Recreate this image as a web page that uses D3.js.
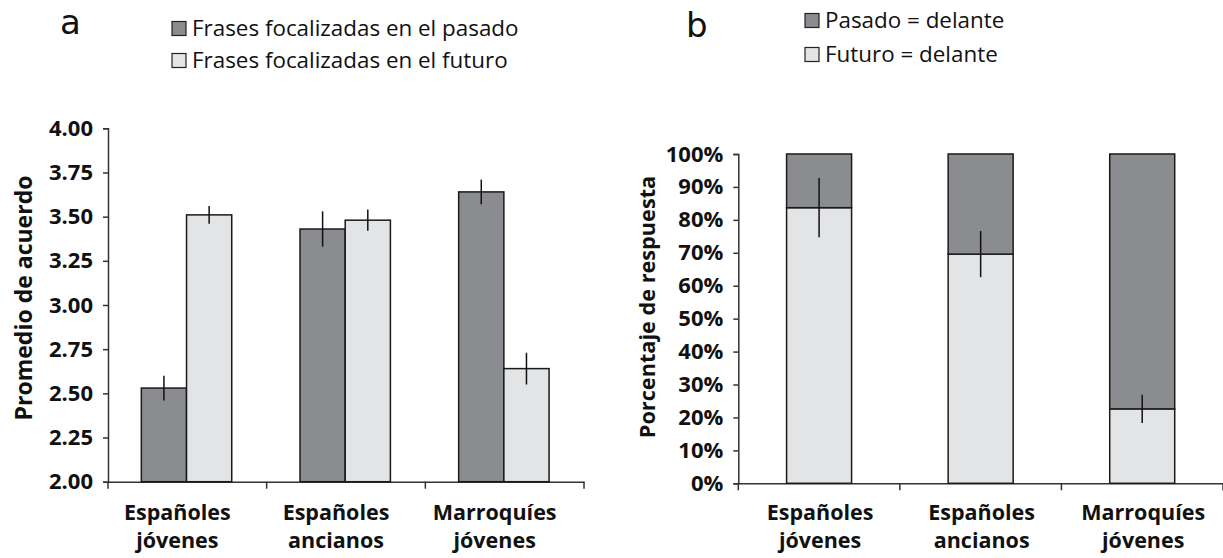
<!DOCTYPE html>
<html><head><meta charset="utf-8">
<script src="https://cdn.jsdelivr.net/npm/d3@7"></script>
<style>
html,body{margin:0;padding:0;background:#fff;}
svg{display:block;font-family:"Open Sans",sans-serif;}
</style></head>
<body>
<svg id="c" width="1223" height="558"></svg>
<script>
const categories = [["Españoles","jóvenes"],["Españoles","ancianos"],["Marroquíes","jóvenes"]];
const seriesA = ["Frases focalizadas en el pasado","Frases focalizadas en el futuro"];
const pastA = [2.53, 3.43, 3.64];
const pastAErr = [0.07, 0.10, 0.07];
const futureA = [3.51, 3.48, 2.64];
const futureAErr = [0.05, 0.06, 0.09];
const ticksA = [2.00, 2.25, 2.50, 2.75, 3.00, 3.25, 3.50, 3.75, 4.00];

const seriesB = ["Pasado = delante","Futuro = delante"];
const futureB = [83.7, 69.6, 22.6];
const futureBErr = [9.0, 7.0, 4.3];
const pastB = [16.3, 30.4, 77.4];
const ticksB = [0,10,20,30,40,50,60,70,80,90,100];

const DARK = "#8b8c90", LIGHT = "#e3e4e6";
const svg = d3.select("#c");
const catIdx = categories.map((c,i)=>i);

// ---------- Panel a ----------
const xA = d3.scaleBand().domain(catIdx).range([108, 584]);
const yA = d3.scaleLinear().domain([2,4]).range([481.7,128.3]);
const barW_A = 45.2;
const gA = svg.append("g");

const axYA = gA.append("g").attr("transform","translate(108,0)")
  .call(d3.axisLeft(yA).tickValues(ticksA).tickFormat(d3.format(".2f")).tickSize(5).tickPadding(10));
const axXA = gA.append("g").attr("transform",`translate(0,${yA(2)})`)
  .call(d3.axisBottom(xA).tickValues([]).tickSizeOuter(0));
gA.selectAll(".bt").data([0,1,2,3]).enter().append("line")
  .attr("x1",d=>108 + d*xA.bandwidth()).attr("x2",d=>108 + d*xA.bandwidth())
  .attr("y1",yA(2)).attr("y2",yA(2)+7).attr("stroke","#333").attr("stroke-width",1.5);

const pairs = [{v:pastA,e:pastAErr,c:DARK,off:-1},{v:futureA,e:futureAErr,c:LIGHT,off:0}];
pairs.forEach(s=>{
  catIdx.forEach(i=>{
    const cx = xA(i)+xA.bandwidth()/2 + s.off*barW_A - 0.8;
    gA.append("rect").attr("x",cx).attr("y",yA(s.v[i])).attr("width",barW_A)
      .attr("height",yA(2)-yA(s.v[i])).attr("fill",s.c).attr("stroke","#1a1a1a").attr("stroke-width",1.5);
    const ex = cx + barW_A/2;
    gA.append("line").attr("x1",ex).attr("x2",ex)
      .attr("y1",yA(s.v[i]+s.e[i])).attr("y2",yA(s.v[i]-s.e[i]))
      .attr("stroke","#111").attr("stroke-width",1.5);
  });
});

// ---------- Panel b ----------
const xB = d3.scaleBand().domain(catIdx).range([738.3, 1223]);
const yB = d3.scaleLinear().domain([0,100]).range([483.3,154]);
const barW_B = 65;
const gB = svg.append("g");
const axYB = gB.append("g").attr("transform","translate(738.3,0)")
  .call(d3.axisLeft(yB).tickValues(ticksB).tickFormat(d=>d+"%").tickSize(5).tickPadding(10));
const axXB = gB.append("g").attr("transform",`translate(0,${yB(0)})`)
  .call(d3.axisBottom(xB).tickValues([]).tickSizeOuter(0));
gB.selectAll(".bt").data([0,1,2,3]).enter().append("line")
  .attr("x1",d=>738.3 + d*xB.bandwidth()).attr("x2",d=>738.3 + d*xB.bandwidth())
  .attr("y1",yB(0)).attr("y2",yB(0)+7).attr("stroke","#333").attr("stroke-width",1.5);

catIdx.forEach(i=>{
  const x0 = xB(i)+xB.bandwidth()/2 - barW_B/2;
  gB.append("rect").attr("x",x0).attr("y",yB(futureB[i])).attr("width",barW_B)
    .attr("height",yB(0)-yB(futureB[i])).attr("fill",LIGHT).attr("stroke","#1a1a1a").attr("stroke-width",1.5);
  gB.append("rect").attr("x",x0).attr("y",yB(futureB[i]+pastB[i])).attr("width",barW_B)
    .attr("height",yB(futureB[i])-yB(futureB[i]+pastB[i])).attr("fill",DARK).attr("stroke","#1a1a1a").attr("stroke-width",1.5);
  const ex = x0 + barW_B/2;
  gB.append("line").attr("x1",ex).attr("x2",ex)
    .attr("y1",yB(futureB[i]+futureBErr[i])).attr("y2",yB(futureB[i]-futureBErr[i]))
    .attr("stroke","#111").attr("stroke-width",1.5);
});

[axYA,axXA,axYB,axXB].forEach(a=>{
  a.selectAll(".domain").attr("stroke","#333").attr("stroke-width",1.5);
  a.selectAll(".tick line").attr("stroke","#333").attr("stroke-width",1.5);
  a.selectAll("text").attr("font-size",22).attr("font-weight",700).attr("fill","#111")
    .attr("font-family","'Open Sans',sans-serif");
});

function catLabels(g, x, dx){
  catIdx.forEach(i=>{
    const cx = x(i)+x.bandwidth()/2 + dx;
    const t = g.append("text").attr("text-anchor","middle").attr("font-size",21.5).attr("font-weight",700).attr("fill","#111");
    t.append("tspan").attr("x",cx).attr("y",520).text(categories[i][0]);
    t.append("tspan").attr("x",cx).attr("y",548).text(categories[i][1]);
  });
}
catLabels(gA, xA, -10);
catLabels(gB, xB, 1);

gA.append("text").attr("transform","translate(32,298) rotate(-90)").attr("text-anchor","middle")
  .attr("font-size",23).attr("font-weight",700).attr("fill","#111").text("Promedio de acuerdo");
gB.append("text").attr("transform","translate(655,307) rotate(-90)").attr("text-anchor","middle")
  .attr("font-size",21.7).attr("font-weight",700).attr("fill","#111").text("Porcentaje de respuesta");

svg.append("text").attr("x",60).attr("y",34).attr("font-size",34).attr("font-family","'DejaVu Sans',sans-serif").attr("fill","#111").text("a");
svg.append("text").attr("x",686).attr("y",37).attr("font-size",34).attr("font-family","'DejaVu Sans',sans-serif").attr("fill","#111").text("b");

function legend(x, ys, labels, sqx){
  labels.forEach((l,i)=>{
    svg.append("rect").attr("x",sqx).attr("y",ys[i]-14.5).attr("width",14).attr("height",14)
      .attr("fill",i===0?DARK:LIGHT).attr("stroke","#222").attr("stroke-width",1.2);
    svg.append("text").attr("x",x).attr("y",ys[i]).attr("font-size",22.4).attr("fill","#111").text(l);
  });
}
legend(192, [36,68], seriesA, 172);
legend(825, [28,62], seriesB, 805);
</script>
</body></html>
